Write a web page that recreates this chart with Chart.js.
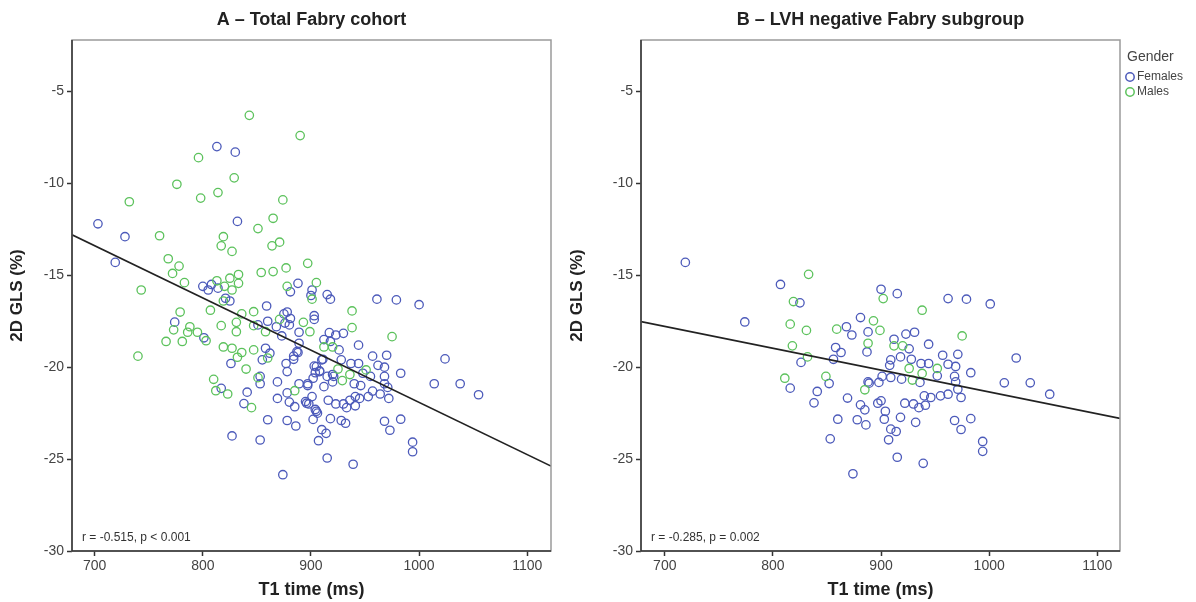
<!DOCTYPE html>
<html>
<head>
<meta charset="utf-8">
<script src="https://cdn.jsdelivr.net/npm/chart.js@4.4.1/dist/chart.umd.min.js"></script>
<style>
  body { margin:0; background:#fff; }
  #wrap { position:relative; width:1196px; height:602px; }
  canvas { position:absolute; top:0; }
  #chartA { left:0; }
  #chartB { left:560px; }
</style>
</head>
<body>
<div id="wrap">
  <canvas id="chartA" width="560" height="602"></canvas>
  <canvas id="chartB" width="636" height="602"></canvas>
</div>
<script>
// T1 time (ms), 2D GLS (%) pairs
var femalesA = [
 [813,-8.0],[830,-8.3],[832,-12.07],[703,-12.2],[728,-12.9],[719,-14.3],
 [800,-15.6],[805,-15.8],[808,-15.5],[814,-15.7],[821,-16.25],[825,-16.4],[774,-17.55],[801,-18.4],
 [859,-16.67],[860,-17.5],[868,-17.8],[875,-17.1],[876,-17.6],[873,-18.3],[826,-19.8],[858,-18.97],
 [862,-19.24],[855,-19.6],[877,-19.8],[878,-20.24],[884,-19.57],[888,-19.2],[889,-18.7],[889,-18.1],
 [817,-21.15],[841,-21.36],[838,-21.98],[853,-20.9],[853,-20.5],[869,-20.8],[869,-21.7],[878,-21.4],
 [880,-21.9],[885,-22.15],[889,-20.9],[860,-22.86],[878,-22.9],[886,-23.2],[827,-23.74],[853,-23.96],
 [874,-25.85],[961,-16.3],[979,-16.34],[1000,-16.6],[944,-18.8],[957,-19.4],[970,-19.35],[1024,-19.55],
 [983,-20.33],[1014,-20.9],[1038,-20.9],[1055,-21.5],[983,-22.83],[968,-22.94],[973,-23.43],[994,-24.08],
 [994,-24.6],[915,-24.94],[939,-25.28],[915,-16.05],[918,-16.3],[901,-15.8],[903,-17.2],[903,-17.4],
 [917,-18.12],[923,-18.25],[930,-18.16],[912,-18.5],[926,-19.06],[928,-19.6],[910,-19.6],[903,-19.94],
 [948,-20.33],[955,-20.5],[962,-19.9],[968,-20.0],[968,-20.5],[968,-20.9],[971,-21.1],[972,-21.7],
 [964,-21.46],[953,-21.6],[945,-21.7],[941,-21.6],[941,-22.1],[933,-22.2],[930,-22.0],[923,-22.0],
 [916,-21.8],[921,-20.5],[920,-20.8],[912,-21.06],[908,-20.24],[897,-20.9],[896,-21.96],[905,-22.4],
 [902,-22.84],[918,-22.8],[928,-22.9],[932,-23.05],[910,-23.4],[914,-23.6],[907,-24.0],[888,-15.44],
 [881,-15.9],[900,-16.1],[878,-17.0],[881,-17.35],[880,-17.7],[851,-17.7],[884,-19.4],[887,-19.15],
 [895,-21.87],[898,-22.0],[901,-21.6],[904,-22.3],[906,-22.5],[897,-21.0],[902,-20.6],[904,-20.3],
 [905,-19.97],[911,-19.57],[908,-20.2],[915,-20.5],[920,-20.4],[918,-18.6],[936,-21.8],[940,-20.9],
 [946,-21.0],[957,-21.3],[937,-19.8],[944,-19.8]
];
var malesA = [
 [843,-6.3],[890,-7.4],[796,-8.6],[829,-9.7],[776,-10.05],[814,-10.5],[798,-10.8],[874,-10.9],
 [732,-11.0],[865,-11.9],[760,-12.85],[851,-12.46],[819,-12.9],[817,-13.4],[871,-13.2],[864,-13.4],
 [827,-13.7],[768,-14.1],[778,-14.5],[772,-14.9],[897,-14.35],[854,-14.85],[865,-14.8],[877,-14.6],
 [833,-14.96],[825,-15.16],[783,-15.4],[743,-15.8],[813,-15.3],[833,-15.44],[820,-15.6],[827,-15.8],
 [819,-16.4],[779,-17.0],[807,-16.9],[773,-17.97],[788,-17.8],[786,-18.1],[795,-18.1],[781,-18.6],
 [766,-18.6],[803,-18.56],[817,-17.74],[831,-17.56],[831,-18.07],[836,-17.1],[847,-16.98],[847,-17.74],
 [858,-18.07],[871,-17.4],[819,-18.9],[827,-18.97],[836,-19.2],[832,-19.46],[847,-19.06],[860,-19.5],
 [840,-20.1],[810,-20.66],[812,-21.28],[823,-21.46],[845,-22.2],[851,-20.57],[885,-21.28],[938,-16.94],
 [938,-17.85],[975,-18.34],[878,-15.6],[905,-15.4],[901,-16.3],[893,-17.56],[899,-18.07],[912,-18.9],
 [920,-18.9],[925,-20.1],[936,-20.4],[929,-20.73],[951,-20.15],[740,-19.4]
];
var femalesB = [
 [719,-14.3],[807,-15.5],[825,-16.5],[774,-17.54],[868,-17.8],[873,-18.25],[881,-17.3],[826,-19.74],
 [858,-18.93],[863,-19.2],[856,-19.57],[816,-21.14],[852,-20.89],[841,-21.32],[838,-21.94],[869,-21.68],
 [881,-22.05],[885,-22.32],[888,-20.8],[860,-22.83],[878,-22.86],[886,-23.14],[853,-23.9],[874,-25.8],
 [888,-18.08],[887,-19.17],[900,-15.76],[915,-16.0],[962,-16.27],[979,-16.3],[1001,-16.56],[912,-18.48],
 [923,-18.2],[931,-18.1],[926,-19.0],[944,-18.75],[909,-19.6],[918,-19.44],[928,-19.57],[957,-19.35],
 [971,-19.3],[962,-19.84],[969,-19.96],[1025,-19.5],[983,-20.3],[937,-19.8],[944,-19.8],[908,-19.9],
 [901,-20.5],[909,-20.56],[919,-20.65],[936,-20.83],[952,-20.47],[968,-20.5],[969,-20.8],[971,-21.2],
 [974,-21.65],[898,-20.83],[889,-20.87],[1014,-20.85],[1038,-20.85],[1056,-21.47],[962,-21.47],[955,-21.56],
 [946,-21.65],[940,-21.56],[922,-21.96],[930,-22.0],[935,-22.2],[941,-22.07],[897,-21.96],[900,-21.83],
 [904,-22.4],[903,-22.83],[918,-22.73],[932,-23.0],[909,-23.37],[914,-23.5],[968,-22.9],[974,-23.39],
 [983,-22.8],[907,-23.95],[994,-24.04],[994,-24.58],[915,-24.9],[939,-25.23]
];
var malesB = [
 [833,-14.95],[819,-16.43],[816,-17.66],[831,-18.0],[859,-17.93],[818,-18.84],[832,-19.44],[811,-20.6],
 [849,-20.5],[885,-21.23],[888,-18.7],[902,-16.27],[938,-16.9],[893,-17.48],[899,-18.0],[912,-18.84],
 [920,-18.84],[975,-18.3],[926,-20.07],[952,-20.07],[929,-20.7],[938,-20.34]
];
// fit line end points
var fitA = [[679,-12.8],[1122,-25.38]];
var fitB = [[678,-17.52],[1121,-22.79]];

var xTicks = [700,800,900,1000,1100];
var yTicks = [-30,-25,-20,-15,-10,-5];

var BLUE = 'rgb(76,90,186)';
var GREEN = 'rgb(92,194,92)';
var FONT = "'Liberation Sans', Arial, sans-serif";

function toPts(arr) {
  return arr.map(function(p){ return {x:p[0], y:p[1]}; });
}

function frameAndText(title, stat, legend) {
  return {
    id: 'frameText',
    afterDatasetsDraw: function(chart) {
      var ctx = chart.ctx, a = chart.chartArea;
      ctx.save();
      ctx.strokeStyle = '#9a9a9a';
      ctx.lineWidth = 1.5;
      ctx.strokeRect(a.left, a.top, a.right - a.left, a.bottom - a.top);
      ctx.strokeStyle = '#333';
      ctx.beginPath();
      ctx.moveTo(a.left, a.top); ctx.lineTo(a.left, a.bottom); ctx.lineTo(a.right, a.bottom);
      ctx.stroke();

      ctx.fillStyle = '#222';
      ctx.font = 'bold 18px ' + FONT;
      ctx.textAlign = 'center';
      ctx.textBaseline = 'middle';
      ctx.fillText(title, (a.left + a.right) / 2, 20);

      ctx.font = '12px ' + FONT;
      ctx.textAlign = 'left';
      ctx.fillStyle = '#333';
      ctx.fillText(stat, a.left + 10, a.bottom - 13);

      if (legend) {
        var lx = a.right + 7;
        ctx.font = '14px ' + FONT;
        ctx.fillStyle = '#444';
        ctx.fillText('Gender', lx, 57);
        ctx.font = '12px ' + FONT;
        [['Females', BLUE, 77], ['Males', GREEN, 92]].forEach(function(it){
          ctx.strokeStyle = it[1];
          ctx.lineWidth = 1.5;
          ctx.beginPath();
          ctx.arc(lx + 3, it[2], 4.2, 0, Math.PI * 2);
          ctx.stroke();
          ctx.fillStyle = '#444';
          ctx.fillText(it[0], lx + 10, it[2]);
        });
      }
      ctx.restore();
    }
  };
}

function makeChart(id, females, males, fit, xr, title, stat, legend, yWidth, rightPad) {
  var ctx = document.getElementById(id).getContext('2d');
  return new Chart(ctx, {
    type: 'scatter',
    data: {
      datasets: [
        {
          type: 'line', label: 'fit', data: toPts(fit), order: 0,
          borderColor: '#222', borderWidth: 1.7, pointRadius: 0, showLine: true
        },
        {
          label: 'Females', data: toPts(females), order: 2,
          borderColor: BLUE, backgroundColor: 'rgba(0,0,0,0)', borderWidth: 1.3, pointRadius: 4.2
        },
        {
          label: 'Males', data: toPts(males), order: 1,
          borderColor: GREEN, backgroundColor: 'rgba(0,0,0,0)', borderWidth: 1.3, pointRadius: 4.2
        }
      ]
    },
    options: {
      responsive: false,
      animation: false,
      devicePixelRatio: 1,
      layout: { padding: { top: 40, right: rightPad, bottom: 0, left: 0 } },
      plugins: { legend: { display: false }, tooltip: { enabled: false } },
      scales: {
        x: {
          type: 'linear', min: xr[0], max: xr[1],
          afterBuildTicks: function(s){ s.ticks = xTicks.map(function(v){ return {value:v}; }); },
          afterFit: function(s){ s.height = 51; },
          grid: { drawOnChartArea: false, color: '#333', tickLength: 5, tickWidth: 1.5 },
          border: { display: false },
          ticks: { color: '#444', font: { family: FONT, size: 14 }, padding: 2, maxRotation: 0,
                   callback: function(v){ return String(v); } },
          title: { display: true, text: 'T1 time (ms)', color: '#222', font: { family: FONT, size: 18, weight: 'bold' }, padding: { top: 0, bottom: 1 } }
        },
        y: {
          type: 'linear', min: -30, max: -2.2,
          afterBuildTicks: function(s){ s.ticks = yTicks.map(function(v){ return {value:v}; }); },
          afterFit: function(s){ s.width = yWidth; },
          grid: { drawOnChartArea: false, color: '#333', tickLength: 5, tickWidth: 1.5 },
          border: { display: false },
          ticks: { color: '#444', font: { family: FONT, size: 14 }, padding: 3,
                   callback: function(v){ return String(v); } },
          title: { display: true, text: '2D GLS (%)', color: '#222', font: { family: FONT, size: 17, weight: 'bold' }, padding: { top: 7, bottom: 0 } }
        }
      }
    },
    plugins: [frameAndText(title, stat, legend)]
  });
}

makeChart('chartA', femalesA, malesA, fitA, [679, 1122], 'A \u2013 Total Fabry cohort', 'r = -0.515, p < 0.001', false, 72, 9);
makeChart('chartB', femalesB, malesB, fitB, [678, 1121], 'B \u2013 LVH negative Fabry subgroup', 'r = -0.285, p = 0.002', true, 81, 76);
</script>
</body>
</html>
